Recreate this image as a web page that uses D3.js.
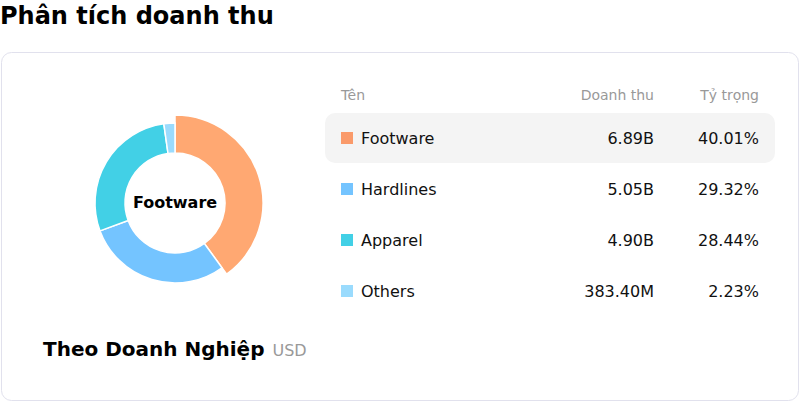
<!DOCTYPE html>
<html>
<head>
<meta charset="utf-8">
<script src="https://cdn.jsdelivr.net/npm/d3@7"></script>
<style>
  body { margin: 0; background: #fff; font-family: "DejaVu Sans", sans-serif; }
</style>
</head>
<body>
<svg id="chart"></svg>
<script>
// doanh thu theo doanh nghiep

var width = 800;
var height = 402;

// data
var names = ["Footware", "Hardlines", "Apparel", "Others"];
var revenueLabels = ["6.89B", "5.05B", "4.90B", "383.40M"];
var shares = [40.01, 29.32, 28.44, 2.23];
var sliceColors = ["#FFA872", "#74C4FF", "#42D0E6", "#9ADBFD"];
var legendColors = ["#FA9A6A", "#74C4FF", "#42D0E6", "#9ADBFD"];
var headers = ["Tên", "Doanh thu", "Tỷ trọng"];
var activeIndex = 0;

var svg = d3.select("#chart")
    .attr("width", width)
    .attr("height", height);

// title
svg.append("text")
    .attr("x", 0)
    .attr("y", 24)
    .style("font-size", "24px")
    .style("font-weight", "bold")
    .style("fill", "#000")
    .text("Phân tích doanh thu");

// card
svg.append("rect")
    .attr("x", 1.5)
    .attr("y", 52.5)
    .attr("width", 797)
    .attr("height", 348)
    .attr("rx", 10)
    .style("fill", "#fff")
    .style("stroke", "#e1e1ed");

// DONUT

var cx = 175, cy = 203;
var inner = 50, outer = 80, outerActive = 88;

var pie = d3.pie()
    .sort(null)
    .value(d => d);

var arcs = pie(shares);

var donut = svg.append("g")
    .attr("transform", "translate(" + cx + "," + cy + ")");

donut.selectAll("path")
    .data(arcs)
    .enter()
    .append("path")
    .attr("d", (d, i) => d3.arc()
        .innerRadius(inner)
        .outerRadius(i === activeIndex ? outerActive : outer)(d))
    .style("fill", (d, i) => sliceColors[i])
    .style("stroke", "#fff")
    .style("stroke-width", "1.5px");

donut.append("text")
    .attr("text-anchor", "middle")
    .attr("y", 5)
    .style("font-size", "16px")
    .style("font-weight", "bold")
    .text(names[activeIndex]);

// subtitle
var sub = svg.append("text")
    .attr("x", 43)
    .attr("y", 356);
sub.append("tspan")
    .style("font-size", "20px")
    .style("font-weight", "bold")
    .style("fill", "#000")
    .text("Theo Doanh Nghiệp");
sub.append("tspan")
    .attr("dx", 8)
    .style("font-size", "16px")
    .style("fill", "#999")
    .text("USD");

// TABLE

var rowY = d3.scalePoint()
    .domain(names)
    .range([138, 291]);

var colName = 341, colRev = 654, colShare = 759;

var head = svg.append("g").style("font-size", "14px").style("fill", "#999");
head.append("text").attr("x", colName).attr("y", 100).text(headers[0]);
head.append("text").attr("x", colRev).attr("y", 100).attr("text-anchor", "end").text(headers[1]);
head.append("text").attr("x", colShare).attr("y", 100).attr("text-anchor", "end").text(headers[2]);

// highlight row
svg.append("rect")
    .attr("x", 325)
    .attr("y", rowY(names[activeIndex]) - 25)
    .attr("width", 450)
    .attr("height", 50)
    .attr("rx", 10)
    .style("fill", "#f4f4f4");

var rows = svg.append("g").selectAll("g")
    .data(names)
    .enter()
    .append("g")
    .attr("transform", d => "translate(0," + rowY(d) + ")")
    .style("font-size", "16px")
    .style("fill", "#111");

rows.append("rect")
    .attr("x", colName)
    .attr("y", -6)
    .attr("width", 12)
    .attr("height", 12)
    .style("fill", (d, i) => legendColors[i]);

rows.append("text")
    .attr("x", 361)
    .attr("y", 6)
    .text(d => d);

rows.append("text")
    .attr("x", colRev)
    .attr("y", 6)
    .attr("text-anchor", "end")
    .text((d, i) => revenueLabels[i]);

rows.append("text")
    .attr("x", colShare)
    .attr("y", 6)
    .attr("text-anchor", "end")
    .text((d, i) => shares[i].toFixed(2) + "%");
</script>
</body>
</html>
